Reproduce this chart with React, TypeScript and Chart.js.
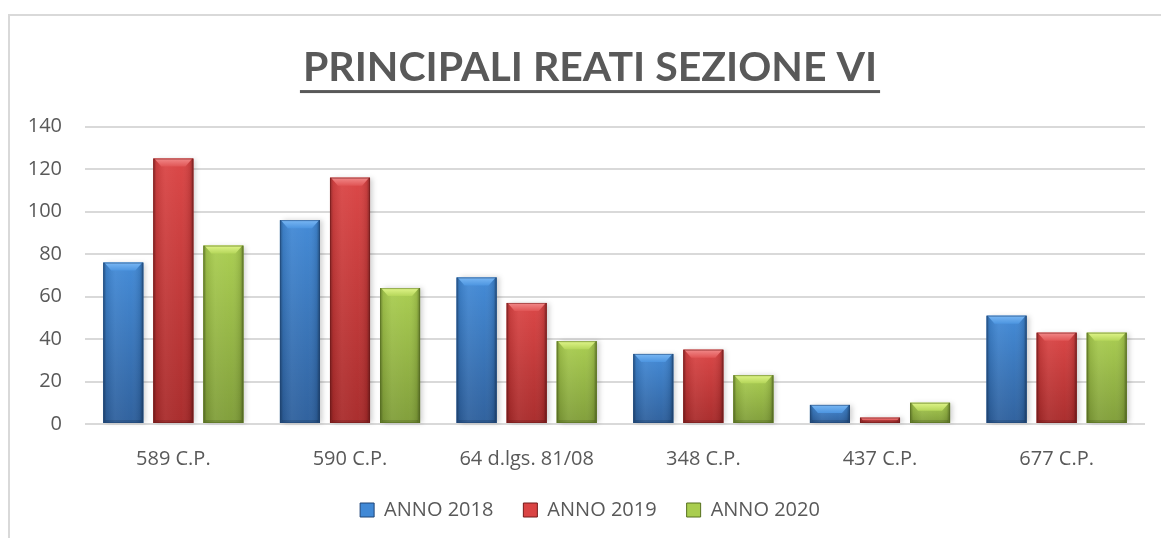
import React, { useEffect, useRef } from 'react';
import { Chart, registerables } from 'chart.js';

Chart.register(...registerables);

const categories = ['589 C.P.', '590 C.P.', '64 d.lgs. 81/08', '348 C.P.', '437 C.P.', '677 C.P.'];
const seriesNames = ['ANNO 2018', 'ANNO 2019', 'ANNO 2020'];
const anno2018 = [76, 96, 69, 33, 9, 51];
const anno2019 = [125, 116, 57, 35, 3, 43];
const anno2020 = [84, 64, 39, 23, 10, 43];
const yMin = 0;
const yMax = 140;
const yStep = 20;
const titleText = 'PRINCIPALI REATI SEZIONE VI';

const palettes = [
  { top: '#4189d6', bottom: '#2d5f9c', cap: '#7ab8f4', capLow: '#4d95e0', edge: '#1f4576' },
  { top: '#da4444', bottom: '#a82a2a', cap: '#f28a8a', capLow: '#e05555', edge: '#741a1a' },
  { top: '#a9cd4f', bottom: '#7f9d38', cap: '#e0f58a', capLow: '#b5d65a', edge: '#56701f' },
];

const TEXT = '#595959';
const FONT = '"Open Sans", sans-serif';
const TITLE_FONT = 'Lato, "Open Sans", sans-serif';

const framePlugin = {
  id: 'frame',
  beforeDraw(chart: any) {
    const ctx = chart.ctx;
    ctx.save();
    ctx.fillStyle = '#ffffff';
    ctx.fillRect(0, 0, chart.width, chart.height);
    ctx.strokeStyle = '#d9d9d9';
    ctx.lineWidth = 2;
    ctx.beginPath();
    ctx.moveTo(9, chart.height);
    ctx.lineTo(9, 15);
    ctx.lineTo(chart.width, 15);
    ctx.stroke();
    ctx.restore();
  },
  afterDraw(chart: any) {
    const tb = chart.titleBlock;
    if (!tb) return;
    const ctx = chart.ctx;
    const opts = chart.options.plugins.title;
    ctx.save();
    ctx.font = `${opts.font.weight} ${opts.font.size}px ${opts.font.family}`;
    ctx.textBaseline = 'middle';
    const m = ctx.measureText(titleText);
    const w = m.width;
    const cx = tb.left + tb.width / 2;
    const baseline = tb.top + tb.height / 2 + m.actualBoundingBoxDescent;
    ctx.fillStyle = TEXT;
    ctx.fillRect(cx - w / 2 - 3, baseline + 6, w + 6, 3);
    ctx.restore();
  },
};

const bevelPlugin = {
  id: 'bevel',
  afterDatasetsDraw(chart: any) {
    const ctx = chart.ctx;
    chart.data.datasets.forEach((ds: any, di: number) => {
      const meta = chart.getDatasetMeta(di);
      if (meta.hidden) return;
      const p = palettes[di];
      meta.data.forEach((el: any) => {
        const { x, y, base, width } = el;
        const left = x - width / 2;
        const right = x + width / 2;
        const top = Math.min(y, base);
        const bottom = Math.max(y, base);
        const h = bottom - top;
        if (h <= 0) return;
        ctx.save();
        ctx.shadowColor = 'rgba(0,0,0,0.18)';
        ctx.shadowBlur = 5;
        ctx.shadowOffsetX = 3;
        ctx.shadowOffsetY = 0;
        const vg = ctx.createLinearGradient(0, top, 0, bottom);
        vg.addColorStop(0, p.top);
        vg.addColorStop(1, p.bottom);
        ctx.fillStyle = vg;
        ctx.fillRect(left, top, width, h);
        ctx.shadowColor = 'transparent';
        const hg = ctx.createLinearGradient(left, 0, right, 0);
        hg.addColorStop(0, 'rgba(0,0,0,0.35)');
        hg.addColorStop(0.08, 'rgba(0,0,0,0.08)');
        hg.addColorStop(0.3, 'rgba(255,255,255,0.06)');
        hg.addColorStop(0.7, 'rgba(255,255,255,0.02)');
        hg.addColorStop(0.92, 'rgba(0,0,0,0.1)');
        hg.addColorStop(1, 'rgba(0,0,0,0.4)');
        ctx.fillStyle = hg;
        ctx.fillRect(left, top, width, h);
        const b = Math.min(8, h / 2);
        const cg = ctx.createLinearGradient(0, top, 0, top + b);
        cg.addColorStop(0, p.cap);
        cg.addColorStop(1, p.capLow);
        ctx.fillStyle = cg;
        ctx.beginPath();
        ctx.moveTo(left + 1, top);
        ctx.lineTo(right - 1, top);
        ctx.lineTo(right - b, top + b);
        ctx.lineTo(left + b, top + b);
        ctx.closePath();
        ctx.fill();
        ctx.fillStyle = 'rgba(0,0,0,0.12)';
        ctx.fillRect(left + 2, bottom - 3, width - 4, 3);
        ctx.strokeStyle = p.edge;
        ctx.globalAlpha = 0.55;
        ctx.lineWidth = 1;
        ctx.strokeRect(left + 0.5, top + 0.5, width - 1, h - 1);
        ctx.restore();
      });
    });
  },
};

export default function App() {
  const canvasRef = useRef<HTMLCanvasElement | null>(null);

  useEffect(() => {
    document.body.style.margin = '0';
    const canvas = canvasRef.current;
    if (!canvas) return;
    const series = [anno2018, anno2019, anno2020];
    const chart = new Chart(canvas, {
      type: 'bar',
      data: {
        labels: categories,
        datasets: series.map((values, i) => ({
          label: seriesNames[i],
          data: values,
          backgroundColor: palettes[i].top,
          borderWidth: 0,
          categoryPercentage: 0.85,
          barPercentage: 0.8,
          yAxisID: 'y',
        })),
      },
      options: {
        animation: false,
        responsive: false,
        maintainAspectRatio: false,
        layout: { padding: { left: 19, right: 0, top: 15, bottom: 8 } },
        scales: {
          x: {
            grid: { display: false, drawTicks: false },
            border: { display: false },
            ticks: { color: TEXT, font: { family: FONT, size: 20 }, padding: 23 },
            afterFit(scale: any) {
              scale.height = 46;
            },
          },
          y: {
            min: yMin,
            max: yMax,
            ticks: { stepSize: yStep, color: TEXT, font: { family: FONT, size: 20 }, padding: 23 },
            grid: { color: '#d9d9d9', lineWidth: 2, drawTicks: false },
            border: { display: false },
            afterFit(scale: any) {
              scale.width = 66;
            },
          },
          yRight: {
            type: 'linear',
            position: 'right',
            min: yMin,
            max: yMax,
            grid: { display: false, drawTicks: false },
            border: { display: false },
            ticks: { display: false },
            afterFit(scale: any) {
              scale.width = 16;
            },
          },
        },
        plugins: {
          title: {
            display: true,
            text: titleText,
            color: TEXT,
            font: { family: TITLE_FONT, size: 41, weight: 'bold' },
            padding: { top: 28, bottom: 34.5 },
          },
          legend: {
            position: 'bottom',
            labels: {
              color: TEXT,
              font: { family: FONT, size: 20 },
              boxWidth: 14,
              boxHeight: 14,
              padding: 30,
              generateLabels() {
                return seriesNames.map((n, i) => ({
                  text: n,
                  fillStyle: palettes[i].top,
                  strokeStyle: palettes[i].edge,
                  lineWidth: 1,
                  fontColor: TEXT,
                  datasetIndex: i,
                  hidden: false,
                }));
              },
            },
          },
          tooltip: { enabled: false },
        },
      },
      plugins: [framePlugin, bevelPlugin],
    } as any);
    return () => chart.destroy();
  }, []);

  return (
    <div style={{ width: 1161, height: 538, position: 'relative' }}>
      <canvas ref={canvasRef} width={1161} height={538} style={{ display: 'block' }} />
    </div>
  );
}
